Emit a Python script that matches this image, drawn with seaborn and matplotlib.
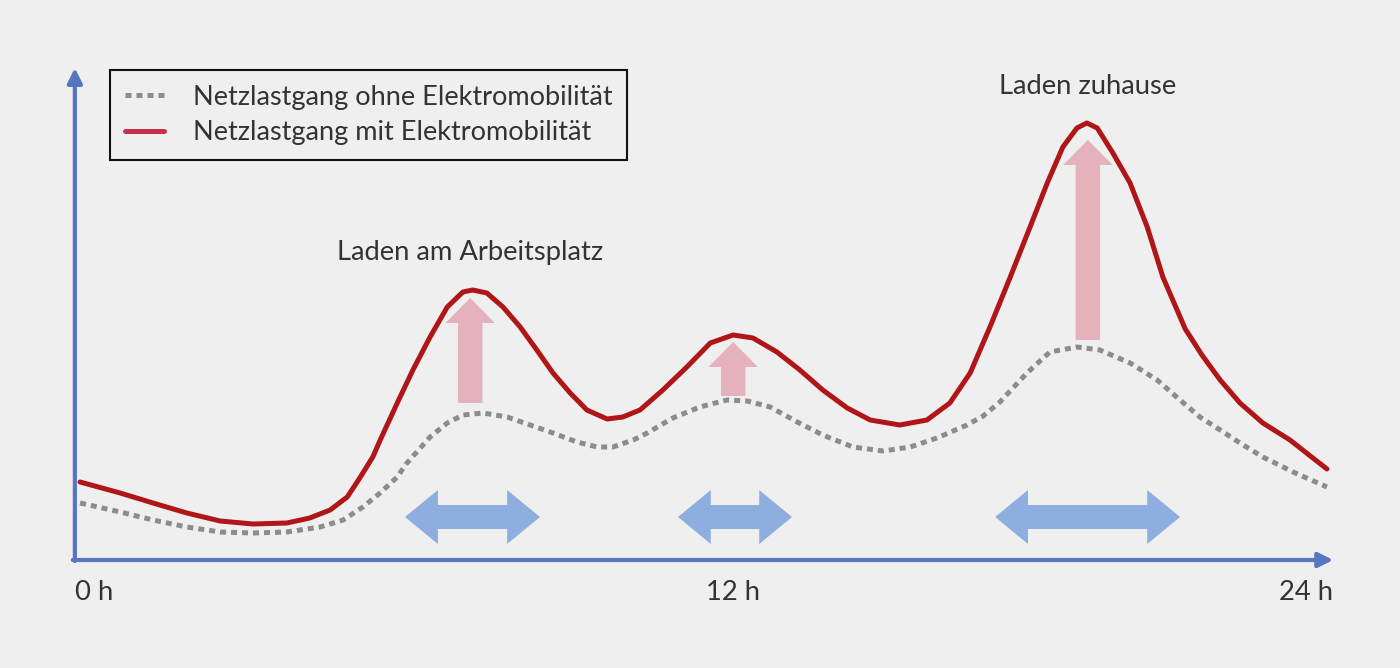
import numpy as np
import matplotlib
matplotlib.use("Agg")
import matplotlib.pyplot as plt
import seaborn as sns

# hours / relative grid load (schematic)
hours_mit = [0.04, 0.81, 1.44, 2.09, 2.73, 3.36, 4.01, 4.45, 4.84, 5.17, 5.41, 5.66,
             5.82, 6.13, 6.43, 6.76, 7.09, 7.39, 7.58, 7.85, 8.16, 8.49, 8.81, 9.12,
             9.45, 9.77, 10.16, 10.46, 10.79, 11.23, 11.69, 12.14, 12.58, 12.96,
             13.42, 13.86, 14.30, 14.77, 15.21, 15.78, 16.30, 16.74, 17.13, 17.51,
             17.90, 18.28, 18.61, 18.91, 19.18, 19.37, 19.57, 19.87, 20.20, 20.53,
             20.83, 21.26, 21.58, 21.93, 22.31, 22.75, 23.27, 23.98]
load_mit = [7.8, 6.7, 5.7, 4.7, 3.9, 3.6, 3.7, 4.2, 5.0, 6.3, 8.2, 10.3,
            12.2, 15.7, 19.0, 22.3, 25.3, 26.8, 27.0, 26.7, 25.3, 23.3, 21.0, 18.7,
            16.7, 15.0, 14.1, 14.3, 15.0, 17.0, 19.3, 21.7, 22.5, 22.2,
            20.8, 19.0, 17.0, 15.2, 14.0, 13.5, 14.0, 15.7, 18.7, 23.3,
            28.3, 33.3, 37.7, 41.3, 43.2, 43.7, 43.2, 40.7, 37.7, 33.3,
            28.3, 23.1, 20.5, 18.0, 15.7, 13.7, 12.0, 9.1]

hours_ohne = [0.04, 0.81, 1.44, 2.09, 2.73, 3.36, 4.01, 4.65, 5.09, 5.47, 5.80, 6.13,
              6.30, 6.76, 7.09, 7.39, 7.78, 8.24, 8.68, 9.12, 9.58, 9.97, 10.27,
              10.66, 10.93, 11.42, 11.94, 12.46, 12.85, 13.29, 13.81, 14.30, 14.88,
              15.46, 15.98, 16.49, 17.07, 17.38, 17.70, 18.22, 18.66, 19.18, 19.62,
              20.20, 20.72, 21.16, 21.54, 21.93, 22.31, 22.75, 23.33, 23.98]
load_ohne = [5.7, 4.8, 4.0, 3.3, 2.8, 2.7, 2.8, 3.3, 4.0, 5.3, 6.7, 8.3,
             9.6, 12.3, 13.7, 14.5, 14.7, 14.3, 13.5, 12.7, 11.8, 11.3, 11.3,
             12.0, 12.7, 14.2, 15.3, 16.0, 15.9, 15.3, 13.8, 12.5, 11.3,
             10.9, 11.3, 12.2, 13.5, 14.4, 15.8, 18.7, 20.8, 21.3, 21.0,
             19.7, 18.0, 16.0, 14.3, 13.0, 11.7, 10.3, 8.8, 7.3]

# charging peaks: position, base, top
peak_x = [7.53, 12.58, 19.39]
peak_base = [15.7, 16.4, 22.0]
peak_top = [26.2, 21.8, 42.0]

# flexible charging windows (start, end)
win_start = [6.28, 11.52, 17.61]
win_end = [8.87, 13.71, 21.16]
win_y = 4.3

bg = "#efefef"
sns.set_theme(style="white")
plt.rcParams["font.family"] = ["Lato", "DejaVu Sans"]

fig = plt.figure(figsize=(14, 6.68), dpi=100, facecolor=bg)
ax = fig.add_axes([0, 0, 1, 1])
ax.set_facecolor(bg)
ax.set_xlim(-1.4976, 25.383)
ax.set_ylim(-10.8, 56.0)
ax.axis("off")

# flexible windows (blue double arrows), two overlapping halves
for s, e in zip(win_start, win_end):
    c = (s + e) / 2
    ax.arrow(c - 0.4, win_y, e - c + 0.4, 0, width=2.4, head_width=5.4, head_length=0.63,
             length_includes_head=True, color="#8eaee0", lw=0, zorder=2)
    ax.arrow(c + 0.4, win_y, s - c - 0.4, 0, width=2.4, head_width=5.4, head_length=0.63,
             length_includes_head=True, color="#8eaee0", lw=0, zorder=2)

# additional load (pink arrows)
for x, b, t in zip(peak_x, peak_base, peak_top):
    ax.arrow(x, b, 0, t - b, width=0.47, head_width=0.95, head_length=2.5,
             length_includes_head=True, color="#e4b1bd", lw=0, zorder=2)

sns.lineplot(x=hours_ohne, y=load_ohne, ax=ax, color="#8c8c8c", lw=3.6,
             zorder=3, label="Netzlastgang ohne Elektromobilität", sort=False)
ax.lines[-1].set_dashes((1.2, 1.0))
ax.lines[-1].set_dash_capstyle("butt")
sns.lineplot(x=hours_mit, y=load_mit, ax=ax, color="#b01518", lw=3.6, zorder=4,
             label="Netzlastgang mit Elektromobilität", sort=False)
ax.lines[-1].set_solid_joinstyle("round")

# axes with arrows
axis_col = "#5676c2"
ax.annotate("", xy=(-0.06, 49.2), xytext=(-0.06, -0.1),
            arrowprops=dict(arrowstyle="-|>", color=axis_col, lw=3, mutation_scale=22,
                            shrinkA=0, shrinkB=0), zorder=5)
ax.annotate("", xy=(24.1, 0.0), xytext=(-0.1, 0.0),
            arrowprops=dict(arrowstyle="-|>", color=axis_col, lw=3, mutation_scale=22,
                            shrinkA=0, shrinkB=0), zorder=5)

txt = "#333333"
fs = 19.7
ax.text(-0.06, -2.0, "0 h", ha="left", va="top", fontsize=fs, color=txt)
ax.text(12.58, -2.0, "12 h", ha="center", va="top", fontsize=fs, color=txt)
ax.text(24.1, -2.0, "24 h", ha="right", va="top", fontsize=fs, color=txt)
ax.text(7.53, 30.0, "Laden am Arbeitsplatz", ha="center", va="baseline", fontsize=fs,
        color=txt)
ax.text(19.39, 46.6, "Laden zuhause", ha="center", va="baseline", fontsize=fs,
        color=txt)

leg = ax.legend(loc="upper left", bbox_to_anchor=(110 / 1400, 1 - 70 / 668),
                frameon=True, fancybox=False, framealpha=1, facecolor=bg,
                edgecolor="#111111", fontsize=19.5, handlelength=1.45, borderpad=0.55,
                labelspacing=0.38, handletextpad=1.05, borderaxespad=0)
for t in leg.get_texts():
    t.set_color(txt)
leg.get_frame().set_linewidth(1.5)
leg.get_lines()[1].set_color("#c9304f")

fig.savefig("out.png", dpi=100, facecolor=bg)
